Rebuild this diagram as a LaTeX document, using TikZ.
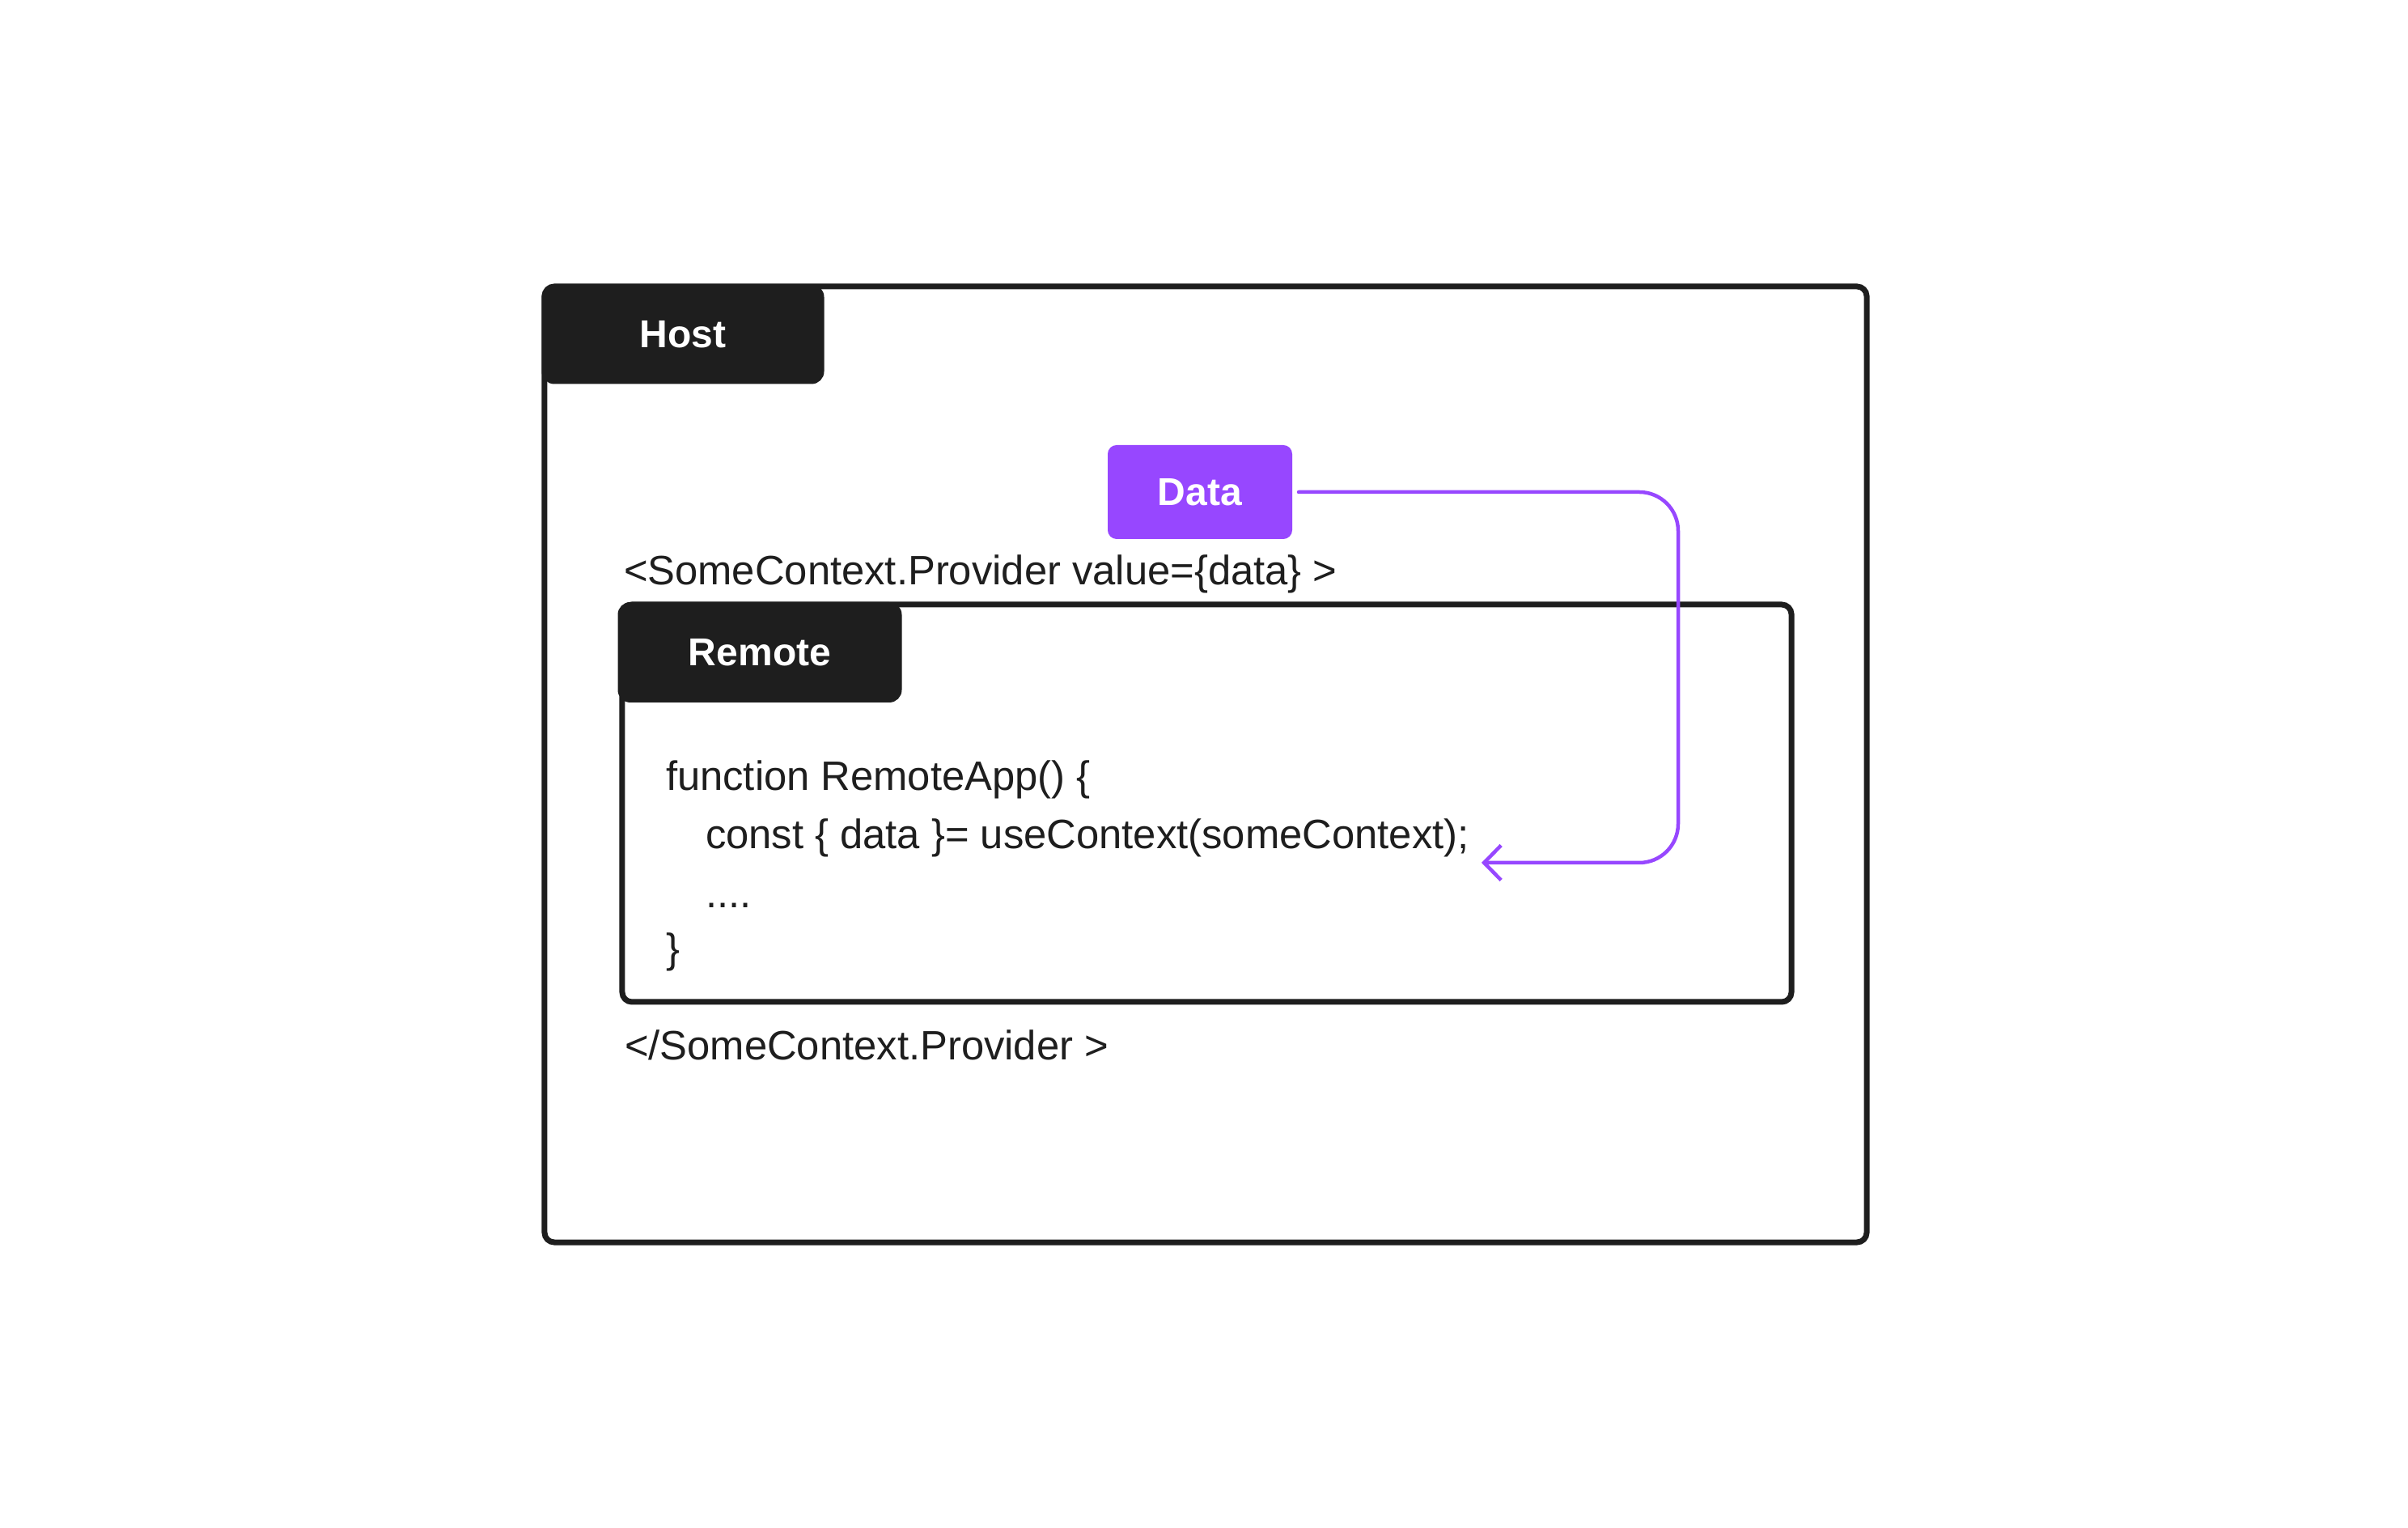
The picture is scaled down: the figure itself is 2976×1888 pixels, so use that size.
\documentclass[tikz,border=0pt]{standalone}
\usepackage{fontspec}
\setmainfont{Liberation Sans}
\usetikzlibrary{arrows.meta}
\definecolor{ink}{HTML}{1E1E1E}
\definecolor{accent}{HTML}{9747FF}
\begin{document}
\begin{tikzpicture}[x=0.2pt,y=-0.2pt,
  frame/.style={draw=ink, line width=1.4pt, rounded corners=2.4pt, inner sep=0, outer sep=0},
  tab/.style={fill=ink, draw=ink, line width=0.6pt, rounded corners=2.8pt, inner sep=0,
    text=white, font=\bfseries\fontsize{9.6}{11}\selectfont},
  databox/.style={fill=accent, draw=accent, line width=0.4pt, rounded corners=2pt, inner sep=0,
    text=white, font=\bfseries\fontsize{9.6}{11}\selectfont},
  code/.style={text=ink, font=\fontsize{10.15}{12}\selectfont, anchor=base west, inner sep=0},
  flow/.style={draw=accent, line width=0.9pt, line cap=round, line join=round,
    -{Straight Barb[length=4.2pt, width=8.6pt, line width=0.9pt]}}]
\useasboundingbox[fill=white] (0,0) rectangle (2976,1888);

% outer host frame
\node[frame, minimum width=326.8pt, minimum height=236.2pt] (hostframe) at (1490,944.5) {};
\node[tab, minimum width=69.2pt, minimum height=24pt] (host) at (844,413) {Host};

% data box
\node[databox, minimum width=45.2pt, minimum height=22.8pt] (data) at (1483,608) {Data};

% provider texts
\node[code] (open) at (770,723) {<SomeContext.Provider value=\{data\} >};
\node[code] (close) at (771,1310) {</SomeContext.Provider >};

% remote frame
\node[frame, minimum width=289pt, minimum height=98.2pt] (remoteframe) at (1491.5,992.5) {};
\node[tab, minimum width=69.6pt, minimum height=24.2pt] (remote) at (939,806) {Remote};

% code lines
\node[code] (l1) at (822,977) {function RemoteApp() \{};
\node[code] (l2) at (871,1049) {const \{ data \}= useContext(someContext);};
\node[code] (l3) at (871,1122) {....};
\node[code] (l4) at (822,1190) {\}};

% connector
\coordinate (corner) at (2074,1066);
\coordinate (tgt) at (1831,1066);
\draw[flow, rounded corners=9.6pt, shorten <=1.6pt] (data.east) -| (corner) -- (tgt);
\end{tikzpicture}
\end{document}
